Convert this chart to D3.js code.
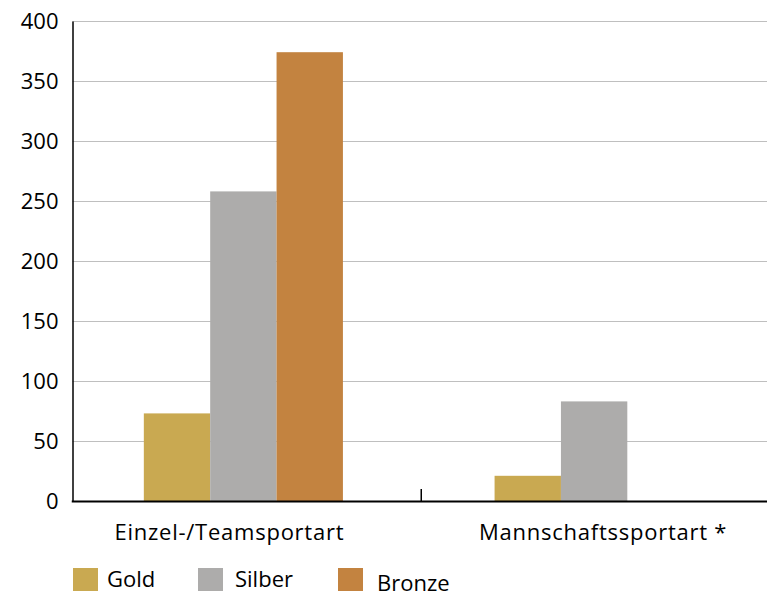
<!DOCTYPE html>
<html><head><meta charset="utf-8">
<script src="https://cdn.jsdelivr.net/npm/d3@7"></script>
<style>html,body{margin:0;padding:0;background:#fff;}svg{display:block;}</style>
</head><body>
<script>
const categories = ["Einzel-/Teamsportart", "Mannschaftssportart *"];
const seriesNames = ["Gold", "Silber", "Bronze"];
const gold = [73, 21];
const silber = [258, 83];
const bronze = [374, 0];
const yTicks = [0, 50, 100, 150, 200, 250, 300, 350, 400];
const colors = ["#C9A951", "#ADACAB", "#C38340"];

const W = 767, H = 597;
const mLeft = 72.5, mRight = 768, mTop = 21, mBottom = 501;
const font = "'Open Sans', sans-serif";
const fs = 22;

const svg = d3.select("body").append("svg").attr("width", W).attr("height", H);

const y = d3.scaleLinear().domain([0, 400]).range([mBottom, mTop]);
const x0 = d3.scaleBand().domain(categories).range([mLeft, mRight]).padding(0);
const x1 = d3.scaleBand().domain(seriesNames).range([0, x0.bandwidth()]).paddingInner(0).paddingOuter(1.12);

// gridlines
svg.append("g").selectAll("line").data(yTicks.filter(d => d > 0)).join("line")
  .attr("x1", mLeft).attr("x2", W).attr("y1", d => Math.round(y(d)) + 0.5).attr("y2", d => Math.round(y(d)) + 0.5)
  .attr("stroke", "#BFBFBF").attr("stroke-width", 1.2);

const data = categories.map((c, i) => ({cat: c, vals: [gold[i], silber[i], bronze[i]]}));
const g = svg.append("g").selectAll("g").data(data).join("g")
  .attr("transform", (d, i) => `translate(${x0(d.cat) - (i === 0 ? 3 : 0)},0)`);
g.selectAll("rect").data(d => d.vals.map((v, j) => ({s: seriesNames[j], v, j}))).join("rect")
  .attr("x", d => x1(d.s)).attr("width", x1.bandwidth())
  .attr("y", d => y(d.v)).attr("height", d => y(0) - y(d.v))
  .attr("fill", d => colors[d.j]);

// y axis
const yAxis = d3.axisLeft(y).tickValues(yTicks).tickSize(0).tickPadding(14);
const ya = svg.append("g").attr("transform", `translate(${mLeft},0)`).call(yAxis);
ya.select(".domain").attr("stroke", "#000").attr("stroke-width", 1.5);
ya.selectAll("text").attr("font-family", font).attr("font-size", fs).attr("fill", "#000")
  .attr("dy", "0.36em");

// x axis baseline
svg.append("line").attr("x1", mLeft - 0.75).attr("x2", W).attr("y1", mBottom + 0.5).attr("y2", mBottom + 0.5)
  .attr("stroke", "#000").attr("stroke-width", 2);
// category separator tick
svg.append("line").attr("x1", x0(categories[1]) + 1).attr("x2", x0(categories[1]) + 1)
  .attr("y1", mBottom - 12).attr("y2", mBottom).attr("stroke", "#000").attr("stroke-width", 1.5);

// category labels
svg.append("g").selectAll("text").data(categories).join("text")
  .attr("x", (d, i) => x0(d) + x0.bandwidth() / 2 + (i === 0 ? -17 : 9)).attr("y", 540)
  .attr("text-anchor", "middle").attr("font-family", font).attr("font-size", fs).attr("fill", "#000")
  .attr("letter-spacing", 0.75)
  .text(d => d);

// legend
const legX = [73, 198, 338];
const legTextX = [107, 235, 377];
const legTextY = [587, 587, 591];
const leg = svg.append("g").selectAll("g").data(seriesNames).join("g");
leg.append("rect").attr("x", (d, i) => legX[i]).attr("y", 568).attr("width", 25).attr("height", 23)
  .attr("fill", (d, i) => colors[i]);
leg.append("text").attr("x", (d, i) => legTextX[i]).attr("y", (d, i) => legTextY[i])
  .attr("font-family", font).attr("font-size", fs).attr("fill", "#000").text(d => d);
</script>
</body></html>
